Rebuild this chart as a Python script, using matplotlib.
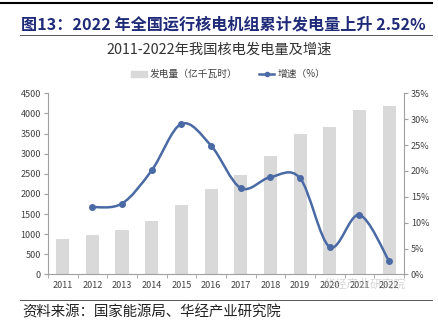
import numpy as np
import matplotlib
matplotlib.use("Agg")
import matplotlib.pyplot as plt
from matplotlib.path import Path
from matplotlib.patches import PathPatch
from matplotlib.lines import Line2D
from matplotlib.patches import Patch

plt.rcParams['font.family'] = ['Noto Sans CJK SC', 'DejaVu Sans']

years = ['2011', '2012', '2013', '2014', '2015', '2016', '2017', '2018', '2019', '2020', '2021', '2022']
output = [872, 982, 1107, 1332, 1714, 2132, 2481, 2944, 3487, 3662, 4075, 4178]  # 亿千瓦时
growth = [None, 13.0, 13.7, 20.1, 29.1, 24.9, 16.7, 18.8, 18.6, 5.3, 11.5, 2.6]  # %

BAR = '#D9D9D9'
LINE = '#4A6AA5'
TXT = '#404040'


def smooth_path(xs, ys, t=0.5):
    # Excel-like smoothed line: cardinal spline as cubic bezier segments
    verts = [(xs[0], ys[0])]
    codes = [Path.MOVETO]
    n = len(xs)
    for i in range(n - 1):
        x0, y0 = (xs[i - 1], ys[i - 1]) if i > 0 else (xs[i], ys[i])
        x1, y1 = xs[i], ys[i]
        x2, y2 = xs[i + 1], ys[i + 1]
        x3, y3 = (xs[i + 2], ys[i + 2]) if i + 2 < n else (x2, y2)
        c1 = (x1 + (x2 - x0) * t / 3, y1 + (y2 - y0) * t / 3)
        c2 = (x2 - (x3 - x1) * t / 3, y2 - (y3 - y1) * t / 3)
        verts += [c1, c2, (x2, y2)]
        codes += [Path.CURVE4] * 3
    return Path(verts, codes)


fig = plt.figure(figsize=(4.39, 3.31), dpi=100)
ax = fig.add_axes([0.109, 0.171, 0.811, 0.547])

x = np.arange(len(years))
ax.bar(x, output, width=0.44, color=BAR, zorder=2)
ax.set_xlim(-0.5, len(years) - 0.5)
ax.set_ylim(0, 4500)
ax.set_yticks(np.arange(0, 4501, 500))
ax.set_xticks(x)
ax.set_xticklabels(years)
ax.set_xticks(np.arange(-0.5, len(years), 1), minor=True)
ax.tick_params(axis='x', which='major', length=0, labelsize=6.5, colors=TXT, pad=5)
ax.tick_params(axis='x', which='minor', length=3, color='#A0A0A0', direction='out')
ax.tick_params(axis='y', length=3, color='#A0A0A0', labelsize=6.5, colors=TXT, pad=2)
for s in ['top', 'right']:
    ax.spines[s].set_visible(False)
for s in ['left', 'bottom']:
    ax.spines[s].set_color('#A0A0A0')
    ax.spines[s].set_linewidth(0.8)

ax2 = ax.twinx()
ax2.set_ylim(0, 35)
ax2.set_yticks(np.arange(0, 36, 5))
ax2.set_yticklabels([f'{v}%' for v in range(0, 36, 5)])
ax2.tick_params(axis='y', length=3, color='#A0A0A0', labelsize=6.5, colors=TXT, pad=2)
for s in ['top', 'left', 'bottom']:
    ax2.spines[s].set_visible(False)
ax2.spines['right'].set_color('#A0A0A0')
ax2.spines['right'].set_linewidth(0.8)

gx = [xi for xi, g in zip(x, growth) if g is not None]
gy = [g for g in growth if g is not None]
ax2.add_patch(PathPatch(smooth_path(gx, gy), facecolor='none', edgecolor=LINE, lw=1.8, zorder=3))
ax2.plot(gx, gy, 'o', color=LINE, ms=4, zorder=4)

# legend
handles = [Patch(color=BAR), Line2D([0], [0], color=LINE, lw=1.8, marker='o', ms=3)]
fig.legend(handles, ['发电量（亿千瓦时）', '增速（%）'], loc='center', bbox_to_anchor=(0.52, 0.776),
           ncol=2, frameon=False, fontsize=7, labelcolor=TXT, handlelength=1.6, handleheight=0.6,
           columnspacing=2.2, handletextpad=0.3)

# titles and frame lines
fig.text(0.048, 0.927, '图13：2022 年全国运行核电机组累计发电量上升 2.52%', fontsize=11.6,
         fontweight='bold', color='#1F2A78', va='center', ha='left')
fig.text(0.5, 0.849, '2011-2022年我国核电发电量及增速', fontsize=10.3, color='#333333',
         va='center', ha='center')
fig.add_artist(Line2D([0.0, 0.985], [0.992, 0.992], color='black', lw=1.5))
fig.add_artist(Line2D([0.045, 0.984], [0.894, 0.894], color='#555555', lw=0.7))
fig.add_artist(Line2D([0.045, 0.984], [0.094, 0.094], color='#555555', lw=0.7))
fig.text(0.05, 0.057, '资料来源：国家能源局、华经产业研究院', fontsize=10.4, color='#222222',
         va='center', ha='left')
fig.text(0.83, 0.14, '华经产业研究院', fontsize=8.5, color='#BBBBBB', alpha=0.6,
         va='center', ha='center')

fig.savefig('out.png', dpi=100)
